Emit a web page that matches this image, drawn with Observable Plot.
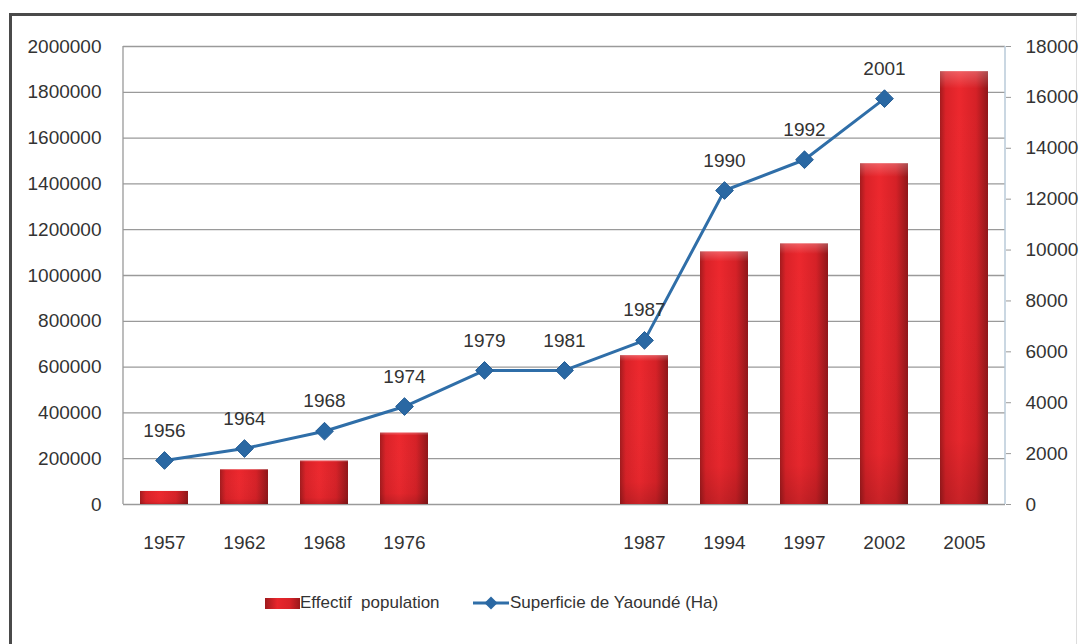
<!DOCTYPE html>
<html>
<head>
<meta charset="utf-8">
<script src="https://cdn.jsdelivr.net/npm/d3@7"></script>
<script src="https://cdn.jsdelivr.net/npm/@observablehq/plot@0.6"></script>
<style>
  html, body { margin: 0; padding: 0; background: #fff; }
  #wrap { position: relative; width: 1085px; height: 644px; overflow: hidden; background: #fff; }
  #frame { position: absolute; left: 9px; top: 13px; width: 1064px; height: 700px;
           border-top: 3px solid #4a4a4a; border-left: 3px solid #4a4a4a; border-right: 1px solid #ddd; }
  #chart { position: absolute; left: 0; top: 0; }
  #legend { position: absolute; left: 0; top: 590px; width: 1085px; height: 26px;
            font-family: "Liberation Sans", Arial, sans-serif; font-size: 17px; color: #333; }
  .item { position: absolute; top: 0; height: 26px; display: flex; align-items: center; white-space: pre; }
  .swatch { width: 35px; height: 11px; background: linear-gradient(90deg, #9e1a1d, #e8262c 35%, #d82228 70%, #9a181b); }
</style>
</head>
<body>
<div id="wrap">
  <div id="frame"></div>
  <div id="chart"></div>
  <div id="legend">
    <div class="item" style="left:265px"><div class="swatch"></div><span>Effectif  population</span></div>
    <div class="item" style="left:473px">
      <svg width="36" height="16" style="margin-right:1px"><line x1="0" y1="8" x2="36" y2="8" stroke="#2f6ea8" stroke-width="3"/><path d="M18,1.5 L24.5,8 L18,14.5 L11.5,8 Z" fill="#2a68a3"/></svg>
      <span>Superficie de Yaoundé (Ha)</span>
    </div>
  </div>
</div>
<script>
// Categories along the x axis (blank slots keep the spacing of the series)
const axisLabels = ["1957", "1962", "1968", "1976", "", "", "1987", "1994", "1997", "2002", "2005"];
// Population count per census year (left axis)
const population = [57000, 152000, 190000, 312000, null, null, 650000, 1103000, 1138000, 1488000, 1890000];
// Urban area of Yaoundé in hectares (right axis) and the year each value refers to
const areaYears = ["1956", "1964", "1968", "1974", "1979", "1981", "1987", "1990", "1992", "2001", null];
const areaHa = [1730, 2200, 2880, 3850, 5270, 5270, 6450, 12340, 13550, 15950, null];
// Axis ticks
const leftTicks = d3.range(0, 2000001, 200000);
const rightTicks = d3.range(0, 18001, 2000);

const leftMax = 2000000, rightMax = 18000;
const k = leftMax / rightMax; // hectares -> left-axis units

const idx = d3.range(axisLabels.length);
const bars = idx.filter(i => population[i] != null).map(i => ({i, v: population[i]}));
const pts = idx.filter(i => areaHa[i] != null).map(i => ({i, v: areaHa[i] * k, lab: areaYears[i]}));

// gradients for the bars
const defs = () => {
  const d = d3.create("svg:defs");
  const g = d.append("linearGradient").attr("id", "barGrad").attr("x1", 0).attr("x2", 1).attr("y1", 0).attr("y2", 0);
  g.append("stop").attr("offset", "0%").attr("stop-color", "#a31b1e");
  g.append("stop").attr("offset", "12%").attr("stop-color", "#d92228");
  g.append("stop").attr("offset", "40%").attr("stop-color", "#ec282e");
  g.append("stop").attr("offset", "75%").attr("stop-color", "#d52127");
  g.append("stop").attr("offset", "100%").attr("stop-color", "#8f1619");
  const s = d.append("linearGradient").attr("id", "barShade").attr("x1", 0).attr("x2", 0).attr("y1", 0).attr("y2", 1);
  s.append("stop").attr("offset", "0%").attr("stop-color", "#fff").attr("stop-opacity", 0.25);
  s.append("stop").attr("offset", "4%").attr("stop-color", "#fff").attr("stop-opacity", 0);
  s.append("stop").attr("offset", "85%").attr("stop-color", "#000").attr("stop-opacity", 0.03);
  s.append("stop").attr("offset", "100%").attr("stop-color", "#000").attr("stop-opacity", 0.15);
  return d.node();
};

// left and right axis lines
const axisLines = (index, scales, values, dim) => {
  const g = d3.create("svg:g");
  const top = dim.marginTop, bottom = dim.height - dim.marginBottom;
  g.append("line").attr("x1", dim.marginLeft).attr("x2", dim.marginLeft)
    .attr("y1", top).attr("y2", bottom).attr("stroke", "#999").attr("stroke-width", 1.3);
  const xr = dim.width - dim.marginRight;
  g.append("line").attr("x1", xr).attr("x2", xr)
    .attr("y1", top).attr("y2", bottom).attr("stroke", "#b9cad8").attr("stroke-width", 1.5);
  return g.node();
};

const chart = Plot.plot({
  width: 1085,
  height: 570,
  marginTop: 46,
  marginBottom: 66,
  marginLeft: 123,
  marginRight: 80,
  x: {type: "band", domain: idx, paddingInner: 0.4, paddingOuter: 0.2},
  y: {domain: [0, leftMax]},
  style: {fontFamily: "'Liberation Sans', Arial, sans-serif", fontSize: "19px", color: "#333", background: "transparent"},
  marks: [
    defs,
    Plot.gridY(leftTicks, {stroke: "#9a9a9a", strokeOpacity: 1, strokeWidth: 1.3}),
    axisLines,
    Plot.axisY({ticks: leftTicks, tickSize: 0, tickPadding: 22, tickFormat: d => String(d), label: null}),
    Plot.axisY({anchor: "right", ticks: rightTicks.map(v => v * k), tickSize: 5, tickPadding: 15,
                tickFormat: d => String(Math.round(d / k)), label: null, stroke: "#999"}),
    Plot.axisX({tickSize: 0, tickPadding: 31, tickFormat: i => axisLabels[i], label: null}),
    Plot.barY(bars, {x: "i", y: "v", fill: "url(#barGrad)"}),
    Plot.barY(bars, {x: "i", y: "v", fill: "url(#barShade)"}),
    Plot.line(pts, {x: "i", y: "v", stroke: "#2f6ea8", strokeWidth: 3}),
    Plot.dot(pts, {x: "i", y: "v", symbol: "diamond2", r: 8, fill: "#2a68a3", stroke: "#245d95", strokeWidth: 1}),
    Plot.text(pts, {x: "i", y: "v", text: "lab", dy: -30, fill: "#333", fontSize: 19})
  ]
});
document.getElementById("chart").appendChild(chart);
</script>
</body>
</html>
